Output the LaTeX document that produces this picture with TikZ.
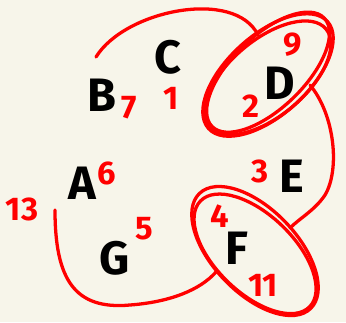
\documentclass[tikz,border=0pt]{standalone}
\usepackage{fontspec}
\setmainfont{Fira Sans}
\usetikzlibrary{positioning}
\definecolor{paper}{RGB}{247,245,234}
\definecolor{pen}{RGB}{255,0,0}
\begin{document}
\begin{tikzpicture}[x=0.03cm,y=-0.03cm]
\tikzstyle{lt}=[inner sep=0pt,font=\fontsize{40}{40}\selectfont\bfseries]
\tikzstyle{nm}=[inner sep=0pt,pen,font=\fontsize{28}{28}\selectfont\bfseries]
\tikzstyle{ink}=[pen,line width=2.8pt,line cap=round]
\fill[paper] (0,0) rectangle (346,322);
\useasboundingbox (0,0) rectangle (346,322);
% letters
\foreach \n/\x/\y in {B/102/95,C/168/57,D/280/83,E/292/176,A/82/183,G/115/258,F/237/248}
 \node[lt] (\n) at (\x,\y) {\n};
% numbers
\foreach \v/\x/\y/\k in {7/129/108/a,1/171/98/b,2/251/106/c,9/293/45/d,3/260/171/e,6/107/173/f,13/22/209/g,5/144/229/h,4/220/216/i,11/263/285/j}
 \node[nm] (n\k) at (\x,\y) {\v};
% loops round D and F
\coordinate (dc) at (268,75); \coordinate (fc) at (255,251);
\draw[ink,rotate around={42:(dc)}] (dc) ellipse [x radius=80,y radius=40];
\draw[ink,rotate around={40:(dc)}] (266,77) ellipse [x radius=76,y radius=38];
\draw[ink,rotate around={44:(dc)}] (270,73) ellipse [x radius=78,y radius=36];
\draw[ink,rotate around={-46:(fc)}] (fc) ellipse [x radius=80,y radius=42];
\draw[ink,rotate around={-44:(fc)}] (257,253) ellipse [x radius=76,y radius=39];
% strokes between the loops
\draw[ink] (96,57) .. controls (125,10) and (235,-12) .. (258,35);
\draw[ink] (310,85) .. controls (335,115) and (340,170) .. (325,195) .. controls (315,210) and (300,218) .. (290,228);
\draw[ink] (55,210) .. controls (55,280) and (75,310) .. (130,305) .. controls (170,302) and (200,290) .. (216,272);
\end{tikzpicture}
\end{document}
